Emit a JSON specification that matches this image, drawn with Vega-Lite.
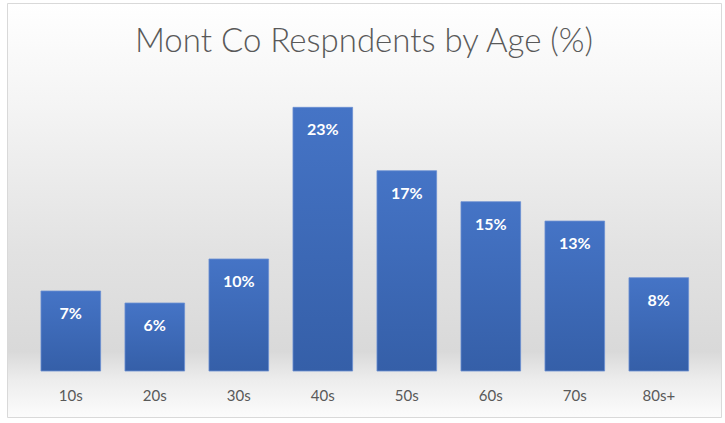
{
  "$schema": "https://vega.github.io/schema/vega-lite/v6.json",
  "autosize": "none",
  "width": 714,
  "height": 414,
  "padding": {"left": 7, "top": 3, "right": 4, "bottom": 6},
  "background": "white",
  "title": {
    "text": "Mont Co Respndents by Age (%)",
    "font": "Lato",
    "fontWeight": 300,
    "fontSize": 33,
    "color": "#595959",
    "anchor": "middle",
    "offset": -56
  },
  "view": {
    "stroke": "#d9d9d9",
    "strokeWidth": 1,
    "fill": {
      "gradient": "linear",
      "x1": 0, "y1": 0, "x2": 0, "y2": 1,
      "stops": [
        {"offset": 0, "color": "#ffffff"},
        {"offset": 0.25, "color": "#f4f4f4"},
        {"offset": 0.6, "color": "#e2e2e2"},
        {"offset": 0.84, "color": "#d9d9d9"},
        {"offset": 0.91, "color": "#ededed"},
        {"offset": 1, "color": "#fcfcfc"}
      ]
    }
  },
  "data": {
    "values": [
      {"age": "10s", "share": 0.0698},
      {"age": "20s", "share": 0.0593},
      {"age": "30s", "share": 0.0977},
      {"age": "40s", "share": 0.23},
      {"age": "50s", "share": 0.1747},
      {"age": "60s", "share": 0.1477},
      {"age": "70s", "share": 0.1308},
      {"age": "80s+", "share": 0.0814}
    ]
  },
  "encoding": {
    "x": {
      "field": "age",
      "type": "nominal",
      "sort": null,
      "scale": {"paddingInner": 0.29, "paddingOuter": 0.395, "align": 0.512},
      "axis": {
        "title": null,
        "orient": "bottom",
        "offset": -31,
        "domain": false,
        "ticks": false,
        "labelAngle": 0,
        "labelFont": "Lato",
        "labelFontSize": 15,
        "labelColor": "#595959",
        "labelPadding": 2,
        "labelBaseline": "top"
      }
    },
    "y": {
      "field": "share",
      "type": "quantitative",
      "scale": {"domain": [-0.0401, 0.321], "nice": false, "zero": false},
      "axis": null
    }
  },
  "layer": [
    {
      "mark": {
        "type": "bar",
        "stroke": "#6b8fd2",
        "strokeWidth": 0.8,
        "color": {
          "gradient": "linear",
          "x1": 0, "y1": 0, "x2": 0, "y2": 1,
          "stops": [
            {"offset": 0, "color": "#4574c6"},
            {"offset": 1, "color": "#355fa8"}
          ]
        }
      },
      "encoding": {
        "y2": {"datum": 0}
      }
    },
    {
      "mark": {
        "type": "text",
        "font": "Lato",
        "fontWeight": "bold",
        "fontSize": 16,
        "color": "#ffffff",
        "baseline": "middle",
        "dy": 23
      },
      "encoding": {
        "text": {"field": "share", "type": "quantitative", "format": ".0%"}
      }
    }
  ]
}
